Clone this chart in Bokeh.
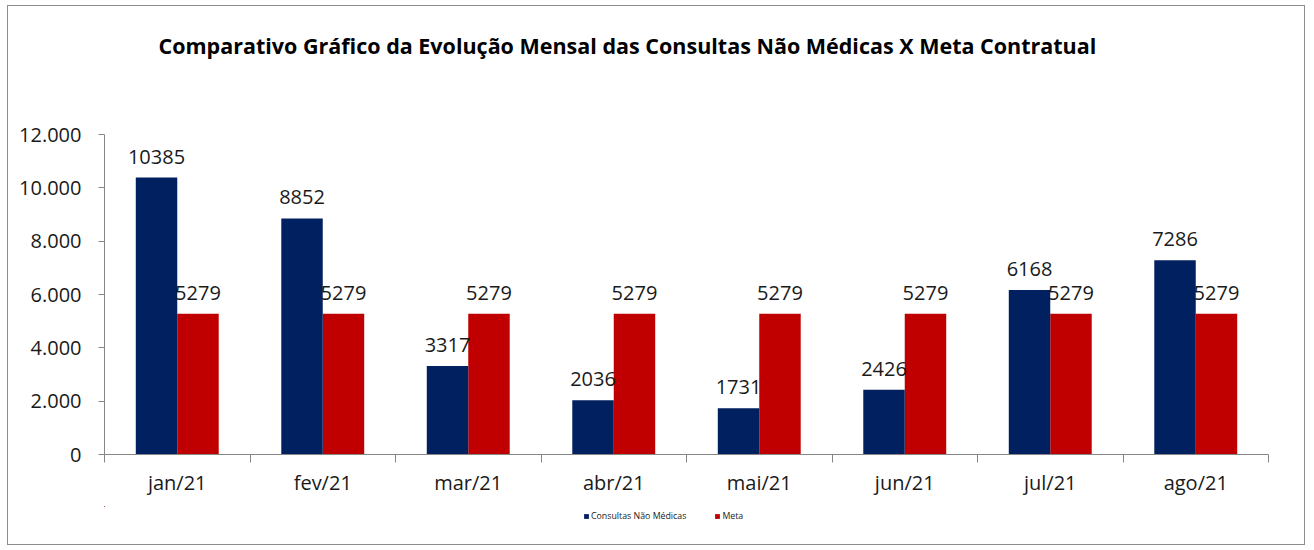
from bokeh.plotting import figure
from bokeh.models import (ColumnDataSource, Range1d, FixedTicker, Legend, LegendItem,
                          LabelSet, Label)
from bokeh.layouts import column
from bokeh.transform import dodge
from bokeh.core.properties import value
from bokeh.embed import file_html
from bokeh.resources import INLINE

# ---- data ----
months = ["jan/21", "fev/21", "mar/21", "abr/21", "mai/21", "jun/21", "jul/21", "ago/21"]
consultas = [10385, 8852, 3317, 2036, 1731, 2426, 6168, 7286]
meta = [5279, 5279, 5279, 5279, 5279, 5279, 5279, 5279]
y_ticks = [0, 2000, 4000, 6000, 8000, 10000, 12000]
y_tick_labels = ["0", "2.000", "4.000", "6.000", "8.000", "10.000", "12.000"]
title_text = "Comparativo Gráfico da Evolução Mensal das Consultas Não Médicas X Meta Contratual"
series_names = ["Consultas Não Médicas", "Meta"]

NAVY = "#002060"
RED = "#C00000"
AXIS = "#868686"
FONT = "Open Sans"
W = 1296
BL, BR = 96, 36          # left / right borders shared by all strips
FW = W - BL - BR         # frame width in pixels

pos = [i + 0.5 for i in range(len(months))]
src = ColumnDataSource(dict(x=pos, month=months, consultas=consultas, meta=meta,
                            consultas_txt=[str(v) for v in consultas],
                            meta_txt=[str(v) for v in meta]))


def blank_fig(h):
    f = figure(width=W, height=h, output_backend="svg", toolbar_location=None,
               x_axis_type=None, y_axis_type=None, x_range=Range1d(0, FW), y_range=Range1d(0, h),
               min_border_left=BL, min_border_right=BR, min_border_top=0, min_border_bottom=0)
    f.outline_line_color = None
    f.xgrid.visible = False
    f.ygrid.visible = False
    return f


# ---- title strip ----
TH = 112
top = blank_fig(TH)
top.add_layout(Label(x=54, y=TH - 39, text=title_text, text_align="left",
                     text_baseline="middle", text_font=FONT, text_font_size="21.5px",
                     text_font_style="bold", text_color="black"))

# ---- main chart ----
p = figure(width=W, height=388, output_backend="svg", toolbar_location=None,
           x_range=Range1d(0, len(months)), y_range=Range1d(0, 12000),
           min_border_left=BL, min_border_right=BR, min_border_top=16, min_border_bottom=52)
p.outline_line_color = None
p.xgrid.visible = False
p.ygrid.visible = False

bw = 0.285
r_meta = p.vbar(x=dodge("x", bw / 2, range=p.x_range), top="meta", width=bw, source=src,
                fill_color=RED, line_color=None)
p.add_layout(LabelSet(x=dodge("x", bw / 2, range=p.x_range), y="meta", text="meta_txt", source=src,
                      text_align="center", text_baseline="alphabetic", y_offset=14,
                      text_font=value(FONT), text_font_size="20px", text_color="#1a1a1a"))
r_cons = p.vbar(x=dodge("x", -bw / 2, range=p.x_range), top="consultas", width=bw, source=src,
                fill_color=NAVY, line_color=None)
p.add_layout(LabelSet(x=dodge("x", -bw / 2, range=p.x_range), y="consultas", text="consultas_txt",
                      source=src, text_align="center", text_baseline="alphabetic", y_offset=14,
                      text_font=value(FONT), text_font_size="20px", text_color="#1a1a1a"))

xa = p.xaxis[0]
xa.ticker = FixedTicker(ticks=pos, minor_ticks=list(range(len(months) + 1)))
xa.major_label_overrides = {pp: m for pp, m in zip(pos, months)}
xa.major_tick_line_color = None
xa.major_tick_out = 0
xa.major_tick_in = 0
xa.minor_tick_out = 8
xa.minor_tick_in = 0
xa.minor_tick_line_color = AXIS
xa.axis_line_color = AXIS
xa.major_label_standoff = 6
xa.major_label_text_font = FONT
xa.major_label_text_font_size = "20px"
xa.major_label_text_color = "#1a1a1a"

ya = p.yaxis[0]
ya.ticker = FixedTicker(ticks=y_ticks)
ya.major_label_overrides = {t: l for t, l in zip(y_ticks, y_tick_labels)}
ya.minor_tick_line_color = None
ya.major_tick_out = 6
ya.major_tick_in = 0
ya.major_tick_line_color = AXIS
ya.axis_line_color = AXIS
ya.major_label_standoff = 17
ya.major_label_text_font = FONT
ya.major_label_text_font_size = "20px"
ya.major_label_text_color = "#1a1a1a"

# ---- legend strip ----
LH = 38
leg = blank_fig(LH)
# swatch renderers mapped far outside the strip so only their legend swatches show
leg.extra_y_ranges = {"off": Range1d(-200000, -100000)}
leg.extra_x_ranges = {"offx": Range1d(1000, 1001)}
lr_cons = leg.vbar(x="x", top="consultas", width=bw, source=src,
                   y_range_name="off", x_range_name="offx", fill_color=NAVY, line_color=None)
lr_meta = leg.vbar(x="x", top="meta", width=bw, source=src,
                   y_range_name="off", x_range_name="offx", fill_color=RED, line_color=None)
legend = Legend(items=[LegendItem(label=series_names[0], renderers=[lr_cons]),
                       LegendItem(label=series_names[1], renderers=[lr_meta])],
                orientation="horizontal", location=(479, 22),
                glyph_width=6, glyph_height=6, label_standoff=2, spacing=28,
                padding=0, margin=0, border_line_color=None, background_fill_alpha=0,
                label_text_font=FONT, label_text_font_size="8.8px", label_text_color="#1a1a1a",
                label_height=8)
leg.add_layout(legend, "center")

layout = column(top, p, leg, spacing=0)
layout.styles = {"border": "1px solid #8c8c8c", "margin-left": "7px", "margin-top": "5px"}

open("out.html", "w").write(file_html(layout, INLINE))
